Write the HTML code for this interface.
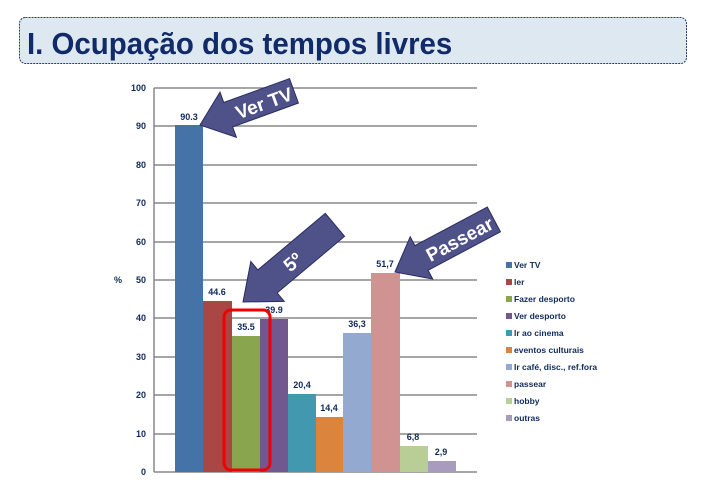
<!DOCTYPE html>
<html><head><meta charset="utf-8"><style>
body{margin:0;background:#fff;width:707px;height:481px;overflow:hidden;font-family:"Liberation Sans",sans-serif}
</style></head><body>
<svg width="707" height="481" xmlns="http://www.w3.org/2000/svg" font-family="Liberation Sans, sans-serif">
<rect x="19.5" y="17.5" width="667" height="46" rx="6" fill="#dde8f0" stroke="#2a3a6a" stroke-dasharray="2,1"/>
<text x="27" y="54" font-size="31" font-weight="bold" fill="#102a6a" transform="translate(27,0) scale(0.95,1) translate(-27,0)">I. Ocupação dos tempos livres</text>
<g stroke="#888" stroke-width="1.5">
<line x1="154" y1="88" x2="477" y2="88"/><line x1="154" y1="126" x2="477" y2="126"/><line x1="154" y1="165" x2="477" y2="165"/><line x1="154" y1="203" x2="477" y2="203"/><line x1="154" y1="242" x2="477" y2="242"/><line x1="154" y1="280" x2="477" y2="280"/><line x1="154" y1="318" x2="477" y2="318"/><line x1="154" y1="357" x2="477" y2="357"/><line x1="154" y1="395" x2="477" y2="395"/><line x1="154" y1="434" x2="477" y2="434"/><line x1="154" y1="472" x2="477" y2="472"/>
<line x1="154" y1="88" x2="154" y2="472"/>
</g>
<g font-size="9" font-weight="bold" fill="#102a5a" text-anchor="end">
<text x="146" y="91">100</text><text x="146" y="129">90</text><text x="146" y="168">80</text><text x="146" y="206">70</text><text x="146" y="245">60</text><text x="146" y="283">50</text><text x="146" y="321">40</text><text x="146" y="360">30</text><text x="146" y="398">20</text><text x="146" y="437">10</text><text x="146" y="475">0</text>
<text x="122" y="283">%</text>
</g>
<rect x="175" y="125" width="28" height="347" fill="#4572a7"/>
<rect x="203" y="301" width="29" height="171" fill="#aa4643"/>
<rect x="232" y="336" width="28" height="136" fill="#89a54e"/>
<rect x="260" y="319" width="28" height="153" fill="#71588f"/>
<rect x="288" y="394" width="28" height="78" fill="#4198af"/>
<rect x="316" y="417" width="27" height="55" fill="#db843d"/>
<rect x="343" y="333" width="28" height="139" fill="#93a9cf"/>
<rect x="371" y="273" width="29" height="199" fill="#d19392"/>
<rect x="400" y="446" width="28" height="26" fill="#b9cd96"/>
<rect x="428" y="461" width="28" height="11" fill="#a99bbd"/>
<g font-size="9" font-weight="bold" fill="#102a5a" text-anchor="middle">
<text x="189" y="120">90.3</text><text x="217" y="295">44.6</text><text x="246" y="330">35.5</text><text x="274" y="313">39.9</text><text x="302" y="388">20,4</text><text x="329" y="411">14,4</text><text x="357" y="327">36,3</text><text x="385" y="267">51,7</text><text x="413" y="440">6,8</text><text x="441" y="455">2,9</text>
</g>
<rect x="224" y="310" width="46" height="160" rx="7" fill="none" stroke="#e00" stroke-width="3"/>
<g fill="#4f5189" stroke="#2a2c60" stroke-width="1">
<g transform="translate(200,125) rotate(-20)"><polygon points="0,0 30,-24 30,-13 100,-13 100,13 30,13 30,24"/><text x="38" y="8" font-size="19" font-weight="bold" fill="#fff" stroke="none">Ver TV</text></g>
<g transform="translate(243,302) rotate(-40)"><polygon points="0,0 32,-26 32,-15 120,-15 120,15 32,15 32,26"/><text x="55" y="8" font-size="19" font-weight="bold" fill="#fff" stroke="none">5º</text></g>
<g transform="translate(395,272) rotate(-28)"><polygon points="0,0 30,-24 30,-14 112,-14 112,14 30,14 30,24"/><text x="36" y="8" font-size="19" font-weight="bold" fill="#fff" stroke="none">Passear</text></g>
</g>
<g font-size="8.5" font-weight="bold" fill="#102a5a">
<rect x="506" y="262" width="6" height="6" fill="#4572a7"/><text x="514" y="268">Ver TV</text>
<rect x="506" y="279" width="6" height="6" fill="#aa4643"/><text x="514" y="285">ler</text>
<rect x="506" y="296" width="6" height="6" fill="#89a54e"/><text x="514" y="302">Fazer desporto</text>
<rect x="506" y="313" width="6" height="6" fill="#71588f"/><text x="514" y="319">Ver desporto</text>
<rect x="506" y="330" width="6" height="6" fill="#4198af"/><text x="514" y="336">Ir ao cinema</text>
<rect x="506" y="347" width="6" height="6" fill="#db843d"/><text x="514" y="353">eventos culturais</text>
<rect x="506" y="364" width="6" height="6" fill="#93a9cf"/><text x="514" y="370">Ir café, disc., ref.fora</text>
<rect x="506" y="381" width="6" height="6" fill="#d19392"/><text x="514" y="387">passear</text>
<rect x="506" y="398" width="6" height="6" fill="#b9cd96"/><text x="514" y="404">hobby</text>
<rect x="506" y="415" width="6" height="6" fill="#a99bbd"/><text x="514" y="421">outras</text>
</g>
</svg>
</body></html>
